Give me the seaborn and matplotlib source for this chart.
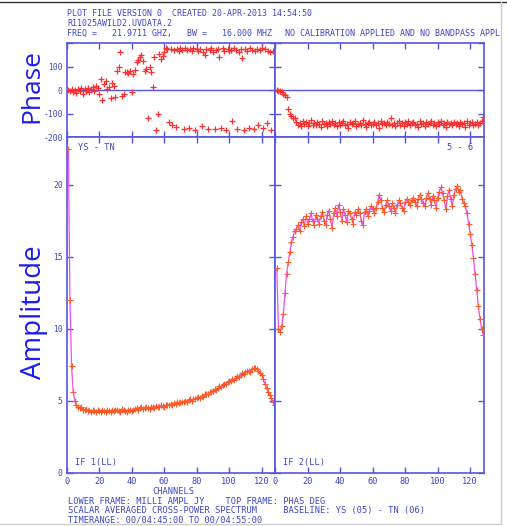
import matplotlib
matplotlib.use("Agg")
import matplotlib.pyplot as plt
import seaborn as sns
import numpy as np
import pandas as pd

# ---- spectrum data: channels 1..128, two IFs ----
channels = list(range(1, 129))

phase_if1 = [2, -3, 5, -8, 0, -12, 4, -5, 8, -15, 3, -6, 10,
             -10, 5, 12, -4, 15, 8, -18,
             48, -42, 25, 38, 5, 12, -35, 30, 15, -28,
             80, 100, 162, -25, -18, 75, 78, 72, 80, -8,
             70, 85, 120, 128, 140, 150, 125, 80, 90, -120,
             100, 78, 12, 140, -170, -100, 155, 130, 145, 160,
             178, 175, -135, 176, -150, 172, -158, 176, 168, 180,
             170, -165, 178, 172, -160, 175, 165, 180, -170, 176,
             168, 174, -155, 160, 150, 176, -168, 172, 178, 163,
             -165, 170, 175, 140, -160, 178, 168, -172, 174, 166,
             172, -130, 178, 170, -165, 162, 176, 138, -172, 175,
             168, -160, 178, 172, -168, 165, 176, -150, 170, 178,
             -162, 174, -140, 168, 160, -170, 165, 158]

phase_if2 = [2, -3, -5, -8,
             -15, -22, -28, -80,
             -100, -112, -120, -118,
             -135, -148, -140, -152, -130, -145, -138, -155, -142, -128, -148, -140,
             -150, -136, -144, -158, -132, -146, -140, -152, -138, -145, -130, -150,
             -142, -155, -136, -147, -140, -132, -150, -144, -160, -138, -146, -141,
             -134, -152, -145, -139, -148, -128, -144, -156, -140, -135, -150, -143,
             -137, -149, -141, -162, -133, -146, -140, -151, -136, -144, -120, -148,
             -139, -153, -142, -131, -147, -140, -155, -136, -145, -130, -150, -141,
             -138, -148, -143, -157, -134, -145, -140, -152, -137, -146, -142, -133,
             -149, -140, -154, -138, -145, -131, -147, -141, -156, -136, -144, -139,
             -150, -135, -146, -142, -153, -137, -145, -140, -158, -134, -147, -141,
             -138, -150, -143, -136, -148, -140, -132, -115]

amp_if1 = [22.5, 12.0, 7.4, 5.6, 5.0,
           4.7, 4.6, 4.5, 4.55, 4.4,
           4.35, 4.45, 4.3, 4.4, 4.25, 4.35, 4.3, 4.2, 4.35, 4.3,
           4.25, 4.4, 4.3, 4.2, 4.35, 4.3, 4.25, 4.4, 4.3, 4.35,
           4.4, 4.3, 4.25, 4.45, 4.35, 4.3, 4.2, 4.4, 4.35, 4.3,
           4.4, 4.45, 4.5, 4.4, 4.5, 4.55, 4.45, 4.5, 4.6, 4.5,
           4.45, 4.55, 4.6, 4.5, 4.65, 4.6, 4.55, 4.7, 4.65, 4.6,
           4.7, 4.75, 4.7, 4.8, 4.75, 4.85, 4.8, 4.9, 4.85, 4.9,
           4.95, 4.9, 5.0, 4.95, 5.05, 5.1, 5.0, 5.15, 5.1, 5.2,
           5.25, 5.2, 5.35, 5.3, 5.45, 5.5, 5.45, 5.6, 5.65, 5.7,
           5.8, 5.75, 5.9, 6.0, 5.95, 6.1, 6.2, 6.15, 6.3, 6.35,
           6.4, 6.5, 6.45, 6.6, 6.7, 6.65, 6.8, 6.9, 6.85, 7.0,
           7.05, 7.1, 7.0, 7.2, 7.25, 7.3, 7.2, 7.1, 6.95, 6.8,
           6.5, 6.2, 5.9, 5.6, 5.4, 5.2, 4.9, 4.7]

amp_if2 = [14.2, 10.0, 9.8, 10.2, 11.0, 12.5, 13.8, 14.6, 15.3, 16.0, 16.4, 16.8,
           16.9, 17.2, 16.8, 17.4, 17.6,
           17.1, 17.8, 17.3, 17.6, 18.0, 17.5, 17.2, 17.9, 17.6, 17.3, 17.8, 18.1, 17.5,
           17.2, 17.9, 18.2, 17.6, 17.0, 18.0, 18.4, 17.8, 18.6, 18.1,
           17.5, 18.3, 17.9, 17.4, 18.2, 18.0, 17.6, 17.3, 18.1, 17.9,
           18.3, 18.0, 17.5, 17.2, 18.1, 18.3, 17.8, 18.2, 18.5, 18.3,
           18.0, 18.4, 18.8, 19.3, 18.9, 18.4, 18.1, 18.6, 18.9, 18.5,
           18.2, 18.7, 18.4, 18.0, 18.6, 18.9, 18.7, 18.4, 18.2, 18.8,
           19.0, 18.8, 18.6, 18.9, 19.1, 18.8, 18.5, 19.0, 19.3, 19.0,
           18.7, 18.5, 19.1, 19.4, 19.0, 18.6, 19.2, 18.9, 18.4, 19.1,
           19.5, 19.8, 19.4, 18.9, 18.3, 19.2, 19.6, 19.0, 18.5, 19.3,
           19.7, 19.9, 19.5, 19.6, 19.0, 18.7, 18.5, 18.0, 17.3, 16.6,
           15.8, 14.9, 13.8, 12.7, 11.6, 10.7, 10.0, 9.6]

x_ticks = [0, 20, 40, 60, 80, 100, 120]
phase_ticks = [-200, -100, 0, 100, 200]
phase_tick_labels = ["-200", "-100", "0", "100", ""]
amp_ticks = [0, 5, 10, 15, 20]
amp_tick_labels = ["0", "5", "10", "15", "20"]

# ---- styling ----
W, H = 507, 526
FRAME = "#5656e0"
TXT = "#3c46c4"
MONO = "DejaVu Sans Mono"
PHASE_C = "#ff2f2f"
AMP_MARK = "#ff5a26"
AMP_LINE = "#ee4fee"

sns.set_theme(style="white")
plt.rcParams["axes.unicode_minus"] = False
plt.rcParams["font.family"] = ["DejaVu Sans"]

fig = plt.figure(figsize=(W / 100, H / 100), dpi=100)
fig.patch.set_facecolor("white")


def box(x0, y0, x1, y1):
    return [x0 / W, 1 - y1 / H, (x1 - x0) / W, (y1 - y0) / H]


def ftext(x, y, s, **kw):
    kw.setdefault("family", MONO)
    kw.setdefault("fontsize", 6.2)
    kw.setdefault("color", TXT)
    kw.setdefault("va", "center")
    fig.text(x / W, 1 - y / H, s, **kw)


XL, XM, XR = 66.7, 275.2, 483.7
YT, YM, YB = 43.0, 137.0, 473.0

ax_p1 = fig.add_axes(box(XL, YT, XM, YM))
ax_p2 = fig.add_axes(box(XM, YT, XR, YM))
ax_a1 = fig.add_axes(box(XL, YM, XM, YB))
ax_a2 = fig.add_axes(box(XM, YM, XR, YB))

df1 = pd.DataFrame({"channel": channels, "phase": phase_if1, "amp": amp_if1})
df2 = pd.DataFrame({"channel": channels, "phase": phase_if2, "amp": amp_if2})

for ax, df in ((ax_p1, df1), (ax_p2, df2)):
    ax.axhline(0, color=FRAME, lw=1.0, zorder=1)
    sns.scatterplot(data=df, x="channel", y="phase", ax=ax, marker="+",
                    color=PHASE_C, s=22, linewidth=0.9, zorder=3, legend=False)
    ax.set_ylim(-200, 200)

for ax, df in ((ax_a1, df1), (ax_a2, df2)):
    sns.lineplot(data=df, x="channel", y="amp", ax=ax, color=AMP_LINE,
                 lw=0.9, zorder=2, legend=False)
    sns.scatterplot(data=df, x="channel", y="amp", ax=ax, marker="+",
                    color=AMP_MARK, s=14, linewidth=0.8, zorder=3, legend=False)
    ax.set_ylim(0, 23.3)

for ax in (ax_p1, ax_p2, ax_a1, ax_a2):
    ax.set_xlim(0, 128.3)
    ax.set_xlabel("")
    ax.set_ylabel("")
    ax.set_facecolor("white")
    for sp in ax.spines.values():
        sp.set_color(FRAME)
        sp.set_linewidth(1.2)
    ax.tick_params(axis="both", which="both", direction="in", length=4.5,
                   width=1.0, color=FRAME, top=True, bottom=True,
                   left=True, right=True, labelcolor=TXT, pad=2.8)

ax_p1.set_yticks(phase_ticks, phase_tick_labels)
ax_p2.set_yticks(phase_ticks, [""] * len(phase_ticks))
ax_a1.set_yticks(amp_ticks, amp_tick_labels)
ax_a2.set_yticks(amp_ticks, [""] * len(amp_ticks))
ax_p1.set_xticks(x_ticks, [""] * len(x_ticks))
ax_p2.set_xticks(x_ticks, [""] * len(x_ticks))
ax_a1.set_xticks(x_ticks, [str(t) for t in x_ticks])
ax_a2.set_xticks(x_ticks, [str(t) for t in x_ticks])

for ax in (ax_p1, ax_a1):
    for lab in ax.get_yticklabels():
        lab.set_family(MONO)
        lab.set_fontsize(5.8)
        lab.set_color(TXT)
for ax in (ax_a1, ax_a2):
    for lab in ax.get_xticklabels():
        lab.set_family(MONO)
        lab.set_fontsize(6.2)
        lab.set_color(TXT)

# panel captions
ftext(78, 147, "YS - TN")
ftext(473, 147, "5 - 6", ha="right")
ftext(75, 462, "IF 1(LL)")
ftext(283, 462, "IF 2(LL)")

# header
ftext(67, 14, "PLOT FILE VERSION 0  CREATED 20-APR-2013 14:54:50", fontsize=5.95)
ftext(67, 23, "R11025AWILD2.UVDATA.2", fontsize=5.95)
ftext(67, 33, "FREQ =   21.9711 GHZ,   BW =   16.000 MHZ", fontsize=5.95)
ftext(285, 33, "NO CALIBRATION APPLIED AND NO BANDPASS APPL", fontsize=6.05)

# footer
ftext(173, 492, "CHANNELS", ha="center")
ftext(68, 502, "LOWER FRAME: MILLI AMPL JY    TOP FRAME: PHAS DEG")
ftext(68, 511, "SCALAR AVERAGED CROSS-POWER SPECTRUM     BASELINE: YS (05) - TN (06)")
ftext(68, 520, "TIMERANGE: 00/04:45:00 TO 00/04:55:00")

# big axis titles
fig.text(32 / W, 1 - 86 / H, "Phase", family="Open Sans", fontsize=19,
         color="#1c1cf0", rotation=90, ha="center", va="center")
fig.text(34 / W, 1 - 312 / H, "Amplitude", family="Open Sans", fontsize=20,
         color="#1c1cf0", rotation=90, ha="center", va="center")

# thin outer border of the sheet
fig.add_artist(plt.Line2D([0, 1], [1 - 1.5 / H, 1 - 1.5 / H], transform=fig.transFigure,
                          color="#333333", lw=1.0))
fig.add_artist(plt.Line2D([501 / W, 501 / W], [1 - 1.5 / H, 1 - 524 / H],
                          transform=fig.transFigure, color="#cfcfcf", lw=1.0))
fig.add_artist(plt.Line2D([0, 501 / W], [1 - 524 / H, 1 - 524 / H],
                          transform=fig.transFigure, color="#cfcfcf", lw=1.0))

fig.savefig("out.png", dpi=100, facecolor="white")
